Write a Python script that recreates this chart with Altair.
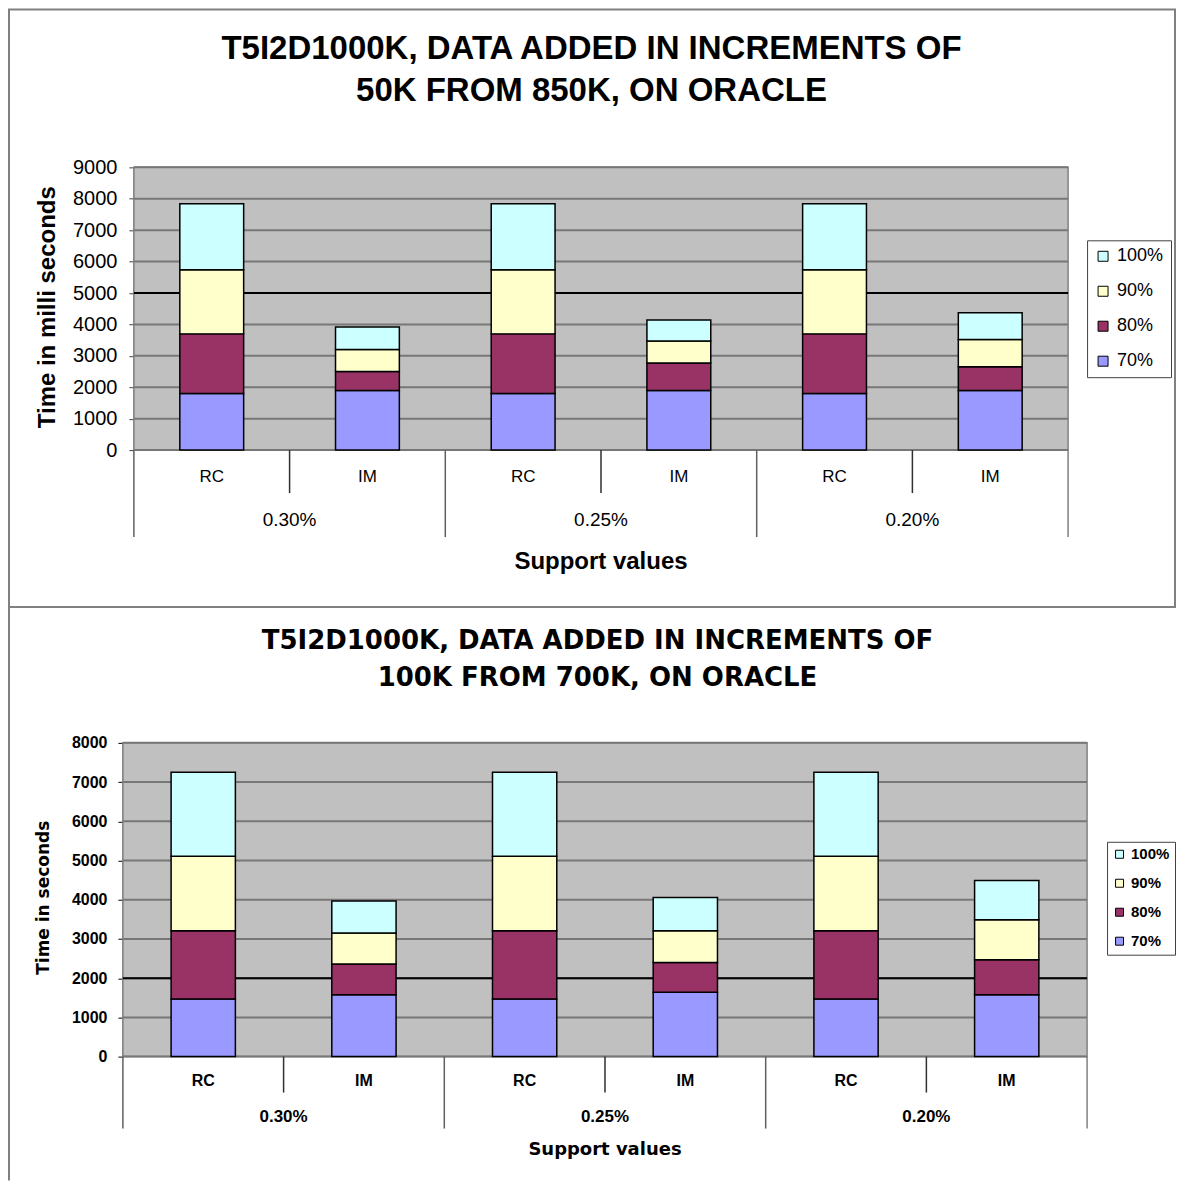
import altair as alt
import pandas as pd

# ---------------- data ----------------
groups = ["0.30%", "0.25%", "0.20%"]
methods = ["RC", "IM"]
levels = ["70%", "80%", "90%", "100%"]
legend_order = ["100%", "90%", "80%", "70%"]
level_colors = ["#CCFFFF", "#FFFFCC", "#993366", "#9999FF"]
x_title = "Support values"

top_title = ["T5I2D1000K, DATA ADDED IN INCREMENTS OF", "50K FROM 850K, ON ORACLE"]
top_ytitle = "Time in milli seconds"
top_ticks = [0, 1000, 2000, 3000, 4000, 5000, 6000, 7000, 8000, 9000]
top_dark = [5000]
# segment heights, order: 0.30% RC, 0.30% IM, 0.25% RC, 0.25% IM, 0.20% RC, 0.20% IM
top_70 = [1800, 1900, 1800, 1900, 1800, 1900]
top_80 = [1900, 600, 1900, 870, 1900, 750]
top_90 = [2040, 700, 2040, 700, 2040, 870]
top_100 = [2100, 720, 2100, 670, 2100, 850]

bot_title = ["T5I2D1000K, DATA ADDED IN INCREMENTS OF", "100K FROM 700K, ON ORACLE"]
bot_ytitle = "Time in seconds"
bot_ticks = [0, 1000, 2000, 3000, 4000, 5000, 6000, 7000, 8000]
bot_dark = [2000]
bot_70 = [1470, 1580, 1470, 1640, 1470, 1580]
bot_80 = [1740, 780, 1740, 760, 1740, 890]
bot_90 = [1900, 795, 1900, 810, 1900, 1020]
bot_100 = [2140, 815, 2140, 850, 2140, 1000]

FONT = "Liberation Sans"
WIDE = "DejaVu Sans"
keys = [f"{g} {m}" for g in groups for m in methods]


def build(segs, ticks, dark, titles, ytitle, S):
    W, H, X0 = S["w"], S["h"], S["xoff"]
    rows = []
    for li, (lev, vals) in enumerate(zip(levels, segs)):
        for k, v in zip(keys, vals):
            rows.append({"key": k, "level": lev, "value": v, "rank": li})
    bars_df = pd.DataFrame(rows)

    xs = alt.Scale(domain=keys, range=[X0, W], paddingInner=0, paddingOuter=0)
    ys = alt.Scale(domain=[0, ticks[-1]], nice=False)
    yaxis = alt.Axis(
        title=None, values=ticks, format="d", grid=False, offset=-X0,
        tickColor=S["dom"], tickSize=5, domainColor=S["dom"],
        domainWidth=1.5, labelFont=FONT, labelFontSize=S["ylab"],
        labelFontWeight=S["ylabw"], labelColor="black", labelPadding=S["ylpad"],
    )

    layers = []
    one = pd.DataFrame({"a": [0]})
    # outer frame
    if S["frame"] == "rect":
        layers.append(
            alt.Chart(one).mark_rect(fillOpacity=0, stroke="#808080", strokeWidth=2).encode(
                x=alt.value(S["fx"]), x2=alt.value(W + S["fx2"]),
                y=alt.value(S["fy"]), y2=alt.value(H + S["fy2"]))
        )
    else:
        layers.append(
            alt.Chart(one).mark_rule(color="#808080", strokeWidth=2).encode(
                x=alt.value(S["fx"]), y=alt.value(S["fy"]), y2=alt.value(H + S["fy2"]))
        )
    # plot background
    layers.append(
        alt.Chart(one).mark_rect(fill="#C0C0C0", stroke="#808080", strokeWidth=1.5).encode(
            x=alt.value(X0), x2=alt.value(W), y=alt.value(0), y2=alt.value(H))
    )
    # gridlines
    layers.append(
        alt.Chart(pd.DataFrame({"value": ticks})).mark_rule(color="#777777", strokeWidth=2)
        .encode(y=alt.Y("value:Q", scale=ys, axis=yaxis), x=alt.value(X0), x2=alt.value(W))
    )
    layers.append(
        alt.Chart(pd.DataFrame({"value": dark})).mark_rule(color="black", strokeWidth=2)
        .encode(y=alt.Y("value:Q", scale=ys, axis=yaxis), x=alt.value(X0), x2=alt.value(W))
    )
    # stacked bars
    layers.append(
        alt.Chart(bars_df).mark_bar(width={"band": S["band"]}, stroke="black",
                                    strokeWidth=1.5, opacity=1)
        .encode(
            x=alt.X("key:N", scale=xs, axis=None, sort=keys),
            y=alt.Y("sum(value):Q", scale=ys, axis=yaxis, stack="zero"),
            color=alt.Color(
                "level:N",
                scale=alt.Scale(domain=legend_order, range=level_colors),
                legend=alt.Legend(
                    title=None, orient="none", legendX=S["lx"], legendY=S["ly"],
                    symbolType="square", symbolSize=S["lsym"], symbolStrokeColor="black",
                    symbolStrokeWidth=1, labelFont=FONT, labelFontSize=S["lfont"],
                    labelFontWeight=S["lfw"], labelColor="black", strokeColor="#404040",
                    fillColor="white", padding=S["lpad"], rowPadding=S["lrow"],
                    symbolOpacity=1, labelOffset=S["loff"],
                ),
            ),
            order=alt.Order("rank:Q", sort="ascending"),
        )
    )
    # category separators below the axis
    sep_df = pd.DataFrame({"key": keys, "kind": [("long" if i % 2 == 0 else "short") for i in range(len(keys))]})
    layers.append(
        alt.Chart(sep_df[sep_df.kind == "long"]).mark_rule(color="#606060", strokeWidth=1.5).encode(
            x=alt.X("key:N", scale=xs, axis=None, bandPosition=0),
            y=alt.value(H), y2=alt.value(H + S["long"]))
    )
    layers.append(
        alt.Chart(sep_df[sep_df.kind == "short"]).mark_rule(color="#303030", strokeWidth=1.5).encode(
            x=alt.X("key:N", scale=xs, axis=None, bandPosition=0),
            y=alt.value(H), y2=alt.value(H + S["short"]))
    )
    layers.append(
        alt.Chart(pd.DataFrame({"key": [keys[-1]]})).mark_rule(color="#808080", strokeWidth=1.5).encode(
            x=alt.X("key:N", scale=xs, axis=None, bandPosition=1),
            y=alt.value(H), y2=alt.value(H + S["long"]))
    )
    # method labels
    lab_df = pd.DataFrame({"key": keys, "lab": [k.split(" ")[1] for k in keys]})
    layers.append(
        alt.Chart(lab_df).mark_text(font=FONT, fontSize=S["labs"], fontWeight=S["labw"],
                                    color="black", baseline="middle")
        .encode(x=alt.X("key:N", scale=xs, axis=None), y=alt.value(H + S["laby"]), text="lab:N")
    )
    # group labels
    grp_df = pd.DataFrame({"key": [f"{g} IM" for g in groups], "grp": groups})
    layers.append(
        alt.Chart(grp_df).mark_text(font=FONT, fontSize=S["grps"], fontWeight=S["grpw"],
                                    color="black", baseline="middle")
        .encode(x=alt.X("key:N", scale=xs, axis=None, bandPosition=0),
                y=alt.value(H + S["grpy"]), text="grp:N")
    )
    # axis titles
    layers.append(
        alt.Chart(pd.DataFrame({"t": [x_title]})).mark_text(
            font=S["svf"], fontSize=S["svs"], fontWeight="bold", color="black", baseline="middle")
        .encode(x=alt.value((X0 + W) / 2), y=alt.value(H + S["svy"]), text="t:N")
    )
    layers.append(
        alt.Chart(pd.DataFrame({"t": [ytitle]})).mark_text(
            font=S["ytf"], fontSize=S["yts"], fontWeight="bold", color="black",
            baseline="middle", angle=270)
        .encode(x=alt.value(S["ytx"]), y=alt.value(S["yty"]), text="t:N")
    )
    # chart title lines
    for line, ty in zip(titles, S["ty"]):
        layers.append(
            alt.Chart(pd.DataFrame({"t": [line]})).mark_text(
                font=S["tf"], fontSize=S["ts"], fontWeight="bold", color="black", baseline="middle")
            .encode(x=alt.value(S["tx"]), y=alt.value(ty), text="t:N")
        )
    return (alt.layer(*layers).properties(width=W, height=H)
            .resolve_scale(color="independent").resolve_legend(color="independent"))


S_top = dict(w=946, h=283, xoff=11, frame="rect", fx=-114, fx2=107, fy=-158, fy2=157,
             dom="#404040", ylab=20, ylabw="normal", ylpad=12, band=0.41,
             lx=965, ly=73, lsym=100, lfont=18, lfw="normal", lpad=7, lrow=17, loff=5,
             long=87, short=43, labs=17, labw="normal", laby=27,
             grps=19, grpw="normal", grpy=70, svf=FONT, svs=24, svy=112,
             ytf=FONT, yts=24, ytx=-75, yty=140, tf=FONT, ts=33, tx=469, ty=[-118, -76])
S_bot = dict(w=965, h=314, xoff=0, frame="line", fx=-114, fy=-136, fy2=124,
             dom="black", ylab=16, ylabw="bold", ylpad=11, band=0.40,
             lx=985, ly=99, lsym=64, lfont=15, lfw="bold", lpad=5, lrow=13, loff=4,
             long=72, short=36, labs=16, labw="bold", laby=24,
             grps=17, grpw="bold", grpy=60, svf=WIDE, svs=18, svy=93,
             ytf=WIDE, yts=17, ytx=-79, yty=155, tf=WIDE, ts=26, tx=475, ty=[-102, -65])

top = build([top_70, top_80, top_90, top_100], top_ticks, top_dark, top_title, top_ytitle, S_top)
bot = build([bot_70, bot_80, bot_90, bot_100], bot_ticks, bot_dark, bot_title, bot_ytitle, S_bot)

chart = alt.vconcat(top, bot, spacing=-4).properties(
    padding={"left": 7, "top": 7, "right": 0, "bottom": 0}
).configure(background="white").configure_view(fill="transparent", stroke="transparent")

chart.save("out.html", embed_options={"renderer": "svg", "actions": False})
